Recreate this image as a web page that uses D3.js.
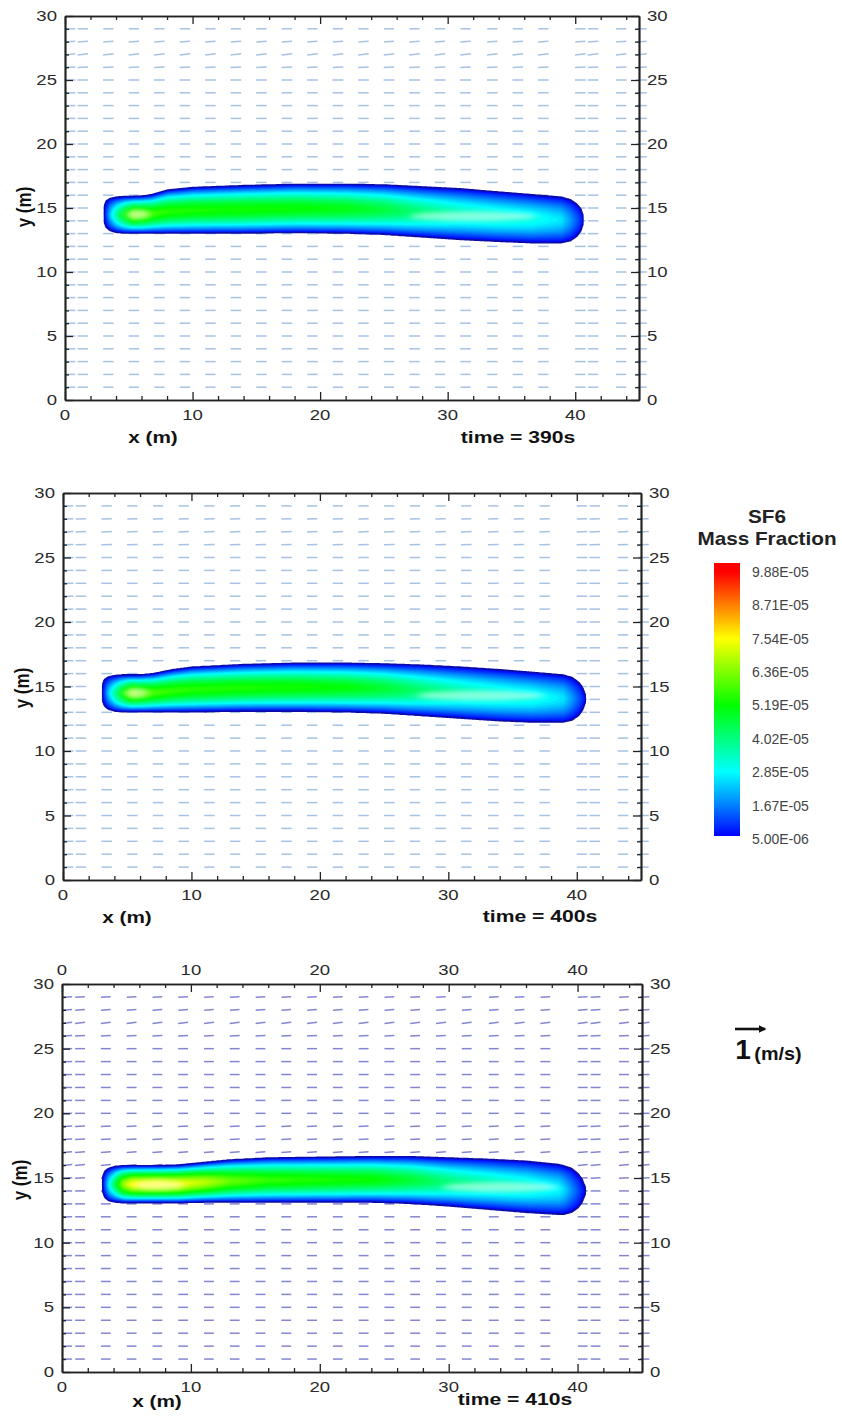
<!DOCTYPE html>
<html>
<head>
<meta charset="utf-8">
<script src="https://cdn.jsdelivr.net/npm/d3@7"></script>
<style>
  body { margin: 0; background: #fff; }
  text { font-family: "Liberation Sans", Arial, sans-serif; }
</style>
</head>
<body>
<svg id="chart" width="842" height="1416"></svg>
<script>
// ---- data ----
const times = ["390s", "400s", "410s"];
const xTickValues = [0, 10, 20, 30, 40];
const xMinorValues = [2, 4, 6, 8, 12, 14, 16, 18, 22, 24, 26, 28, 32, 34, 36, 38, 42, 44];
const yTickValues = [0, 5, 10, 15, 20, 25, 30];
const yMinorValues = [1, 2, 3, 4, 6, 7, 8, 9, 11, 12, 13, 14, 16, 17, 18, 19, 21, 22, 23, 24, 26, 27, 28, 29];
const legendValues = [9.88e-5, 8.71e-5, 7.54e-5, 6.36e-5, 5.19e-5, 4.02e-5, 2.85e-5, 1.67e-5, 5.00e-6];
const legendLabels = ["9.88E-05", "8.71E-05", "7.54E-05", "6.36E-05", "5.19E-05", "4.02E-05", "2.85E-05", "1.67E-05", "5.00E-06"];

// plume stations: x (m), upper / lower edge (m), centre-line mass fraction
const st390X   = [3.05, 3.2, 3.5, 4.0, 4.6, 5.3, 6.2, 6.8, 8.0, 10, 14, 18, 22, 25, 28, 31, 34, 36.5, 38.9, 39.6, 40.1, 40.4, 40.6];
const st390Top = [15.1, 15.5, 15.7, 15.8, 15.85, 15.85, 15.9, 16.0, 16.35, 16.55, 16.7, 16.8, 16.8, 16.75, 16.6, 16.45, 16.2, 16.0, 15.8, 15.6, 15.25, 14.9, 14.3];
const st390Bot = [13.9, 13.5, 13.25, 13.1, 13.05, 13.05, 13.05, 13.05, 13.05, 13.05, 13.05, 13.1, 13.05, 12.95, 12.75, 12.55, 12.4, 12.3, 12.3, 12.45, 12.8, 13.2, 13.8];
const st390Pk  = [0.6e-5, 1.2e-5, 2.4e-5, 3.8e-5, 5.2e-5, 6.4e-5, 6.2e-5, 5.8e-5, 5.6e-5, 5.5e-5, 5.4e-5, 5.3e-5, 5.1e-5, 4.7e-5, 4.1e-5, 3.6e-5, 3.4e-5, 3.2e-5, 2.7e-5, 2.0e-5, 1.4e-5, 1.0e-5, 0.6e-5];

const st400X   = [3.05, 3.2, 3.5, 4.0, 4.6, 5.3, 6.0, 7.0, 8.5, 10, 14, 18, 22, 25, 28, 31, 34, 36.5, 38.9, 39.6, 40.1, 40.4, 40.65];
const st400Top = [15.1, 15.5, 15.7, 15.8, 15.85, 15.85, 15.85, 15.95, 16.25, 16.45, 16.65, 16.75, 16.75, 16.7, 16.6, 16.45, 16.25, 16.05, 15.85, 15.65, 15.3, 14.9, 14.3];
const st400Bot = [13.9, 13.5, 13.25, 13.1, 13.05, 13.05, 13.05, 13.05, 13.05, 13.05, 13.1, 13.1, 13.05, 12.95, 12.75, 12.55, 12.35, 12.25, 12.25, 12.4, 12.75, 13.15, 13.8];
const st400Pk  = [0.6e-5, 1.2e-5, 2.4e-5, 3.8e-5, 5.3e-5, 6.5e-5, 6.3e-5, 5.9e-5, 5.7e-5, 5.6e-5, 5.5e-5, 5.4e-5, 5.2e-5, 4.8e-5, 4.2e-5, 3.7e-5, 3.4e-5, 3.2e-5, 2.7e-5, 2.0e-5, 1.4e-5, 1.0e-5, 0.6e-5];

const st410X   = [3.15, 3.3, 3.6, 4.1, 4.7, 5.4, 7, 9, 11, 13, 16, 20, 24, 27, 30, 33, 36, 38.5, 38.9, 39.5, 40.0, 40.3, 40.55];
const st410Top = [15.1, 15.5, 15.7, 15.85, 15.9, 15.9, 15.9, 15.95, 16.15, 16.35, 16.5, 16.55, 16.6, 16.6, 16.5, 16.4, 16.25, 16.0, 15.9, 15.7, 15.3, 14.9, 14.3];
const st410Bot = [13.9, 13.5, 13.25, 13.15, 13.1, 13.1, 13.1, 13.1, 13.15, 13.15, 13.15, 13.15, 13.15, 13.05, 12.85, 12.6, 12.35, 12.2, 12.2, 12.35, 12.7, 13.1, 13.7];
const st410Pk  = [0.6e-5, 1.4e-5, 2.8e-5, 4.6e-5, 6.6e-5, 7.6e-5, 7.7e-5, 7.5e-5, 7.0e-5, 6.2e-5, 5.7e-5, 5.5e-5, 5.3e-5, 4.8e-5, 4.1e-5, 3.7e-5, 3.4e-5, 2.9e-5, 2.6e-5, 1.9e-5, 1.3e-5, 0.9e-5, 0.6e-5];

// pale streaks along the core: [x start, x end, y] (m)
const pale390 = [[4.8, 6.6, 14.5], [27.0, 37.0, 14.35]];
const pale400 = [[4.8, 6.6, 14.5], [27.5, 37.5, 14.3]];
const pale410 = [[5.5, 9.5, 14.45], [29.5, 38.5, 14.3]];

// velocity vector grid (m) and components (m/s)
const vecCols = [0.4, 1.4, 3.4, 5.4, 7.4, 9.4, 11.4, 13.4, 15.4, 17.4, 19.4, 21.4, 23.4, 25.4, 27.4, 29.4, 31.4, 33.5, 35.5, 37.5, 40.4, 41.4, 43.6, 45.2];
const vecRows = [1, 2, 3, 4, 5, 6, 7, 8, 9, 10, 11, 12, 13, 14, 15, 16, 17, 18, 19, 20, 21, 22, 23, 24, 25, 26, 27, 28, 29];
const u390 = [0.34, 0.34, 0.35, 0.35, 0.35, 0.35, 0.35, 0.35, 0.35, 0.35, 0.35, 0.35, 0.35, 0.35, 0.35, 0.35, 0.35, 0.35, 0.35, 0.35, 0.35, 0.35, 0.35, 0.35, 0.36, 0.35, 0.35, 0.34, 0.34];
const v390 = [0, 0, 0, 0, 0, 0, 0, 0, 0, 0, 0, 0, 0, 0, 0, 0, 0, 0, 0, 0, 0, 0, 0, 0, 0, 0.02, 0.04, 0.02, 0];
const u400 = [0.34, 0.34, 0.35, 0.35, 0.35, 0.35, 0.35, 0.35, 0.35, 0.35, 0.35, 0.35, 0.35, 0.35, 0.35, 0.35, 0.35, 0.35, 0.35, 0.35, 0.35, 0.35, 0.35, 0.35, 0.35, 0.35, 0.35, 0.34, 0.34];
const v400 = [0, 0, 0, 0, 0, 0, 0, 0, 0, 0, 0, 0, 0, 0, 0, 0, 0, 0, 0, 0, 0, 0, 0, 0, 0, 0.01, 0.02, 0.01, 0];
const u410 = [0.32, 0.32, 0.33, 0.33, 0.33, 0.33, 0.33, 0.33, 0.33, 0.33, 0.33, 0.33, 0.33, 0.33, 0.33, 0.33, 0.33, 0.33, 0.33, 0.33, 0.33, 0.33, 0.33, 0.33, 0.33, 0.33, 0.33, 0.32, 0.32];
const v410 = [0, 0, 0, 0, 0, 0, 0, 0, 0, 0, 0, 0, 0, 0, 0.02, 0.03, 0.02, 0.02, 0.01, 0, 0, 0, 0, 0, 0, 0.02, 0.04, 0.03, 0.02];

// ---- layout ----
const panels = [
  { time: times[0], left: 65, right: 639, top: 16, bottom: 400, st: [st390X, st390Top, st390Bot, st390Pk], pale: pale390, u: u390, v: v390,
    vecColor: "#a6c2e4", topLabels: false, botLabelY: 415, xTitle: [153, 437], timePos: [518, 437], yTitle: [24, 207] },
  { time: times[1], left: 63, right: 641, top: 493, bottom: 880, st: [st400X, st400Top, st400Bot, st400Pk], pale: pale400, u: u400, v: v400,
    vecColor: "#a6c2e4", topLabels: false, botLabelY: 895, xTitle: [127, 917], timePos: [540, 916], yTitle: [22, 688] },
  { time: times[2], left: 62, right: 642, top: 984, bottom: 1372, st: [st410X, st410Top, st410Bot, st410Pk], pale: pale410, u: u410, v: v410,
    vecColor: "#8486d2", topLabels: true, botLabelY: 1387, xTitle: [157, 1401], timePos: [515, 1399], yTitle: [20, 1180] }
];

const svg = d3.select("#chart");
const defs = svg.append("defs");
defs.append("filter").attr("id", "soft").attr("x", "-50%").attr("y", "-100%").attr("width", "200%").attr("height", "300%")
  .append("feGaussianBlur").attr("stdDeviation", "4 2.2");

const floorVal = 5e-6;
const color = d3.scaleLinear()
  .domain([5e-6, 2.85e-5, 5.19e-5, 7.54e-5, 9.88e-5])
  .range(["#0000ff", "#00ffff", "#00ff00", "#ffff00", "#ff0000"]);
const levels = d3.range(5e-6, 1.0e-4, 1.5e-6);
const vecScale = 30; // px per 1 m/s (reference arrow)

function addText(sel, x, y, str, o) {
  let tf = `translate(${x},${y})`;
  if (o.rotate) tf += ` rotate(${o.rotate})`;
  tf += ` scale(${o.sx || 1},${o.sy || 1})`;
  return sel.append("text")
    .attr("transform", tf)
    .attr("text-anchor", o.anchor || "middle")
    .attr("dy", "0.35em")
    .style("font-size", o.size + "px")
    .style("font-weight", o.weight || "normal")
    .style("fill", o.fill || "#333")
    .text(str);
}

function interpAt(xs, vs, x) {
  const i = d3.bisectRight(xs, x) - 1;
  if (i < 0 || i >= xs.length - 1) return null;
  const t = (x - xs[i]) / (xs[i + 1] - xs[i]);
  return vs[i] + t * (vs[i + 1] - vs[i]);
}

panels.forEach((p, pi) => {
  const xs = d3.scaleLinear().domain([0, 45]).range([p.left, p.right]);
  const ys = d3.scaleLinear().domain([0, 30]).range([p.bottom, p.top]);
  const g = svg.append("g").attr("class", "panel");

  // --- velocity vectors ---
  const vecData = [];
  vecRows.forEach((yv, ri) => {
    vecCols.forEach(xv => vecData.push({ x: xv, y: yv, u: p.u[ri], v: p.v[ri] }));
  });
  g.append("g").selectAll("line")
    .data(vecData)
    .join("line")
    .attr("x1", d => xs(d.x) - d.u * vecScale / 2)
    .attr("x2", d => xs(d.x) + d.u * vecScale / 2)
    .attr("y1", d => ys(d.y) + d.v * vecScale / 2)
    .attr("y2", d => ys(d.y) - d.v * vecScale / 2)
    .attr("stroke", p.vecColor)
    .attr("stroke-width", 1.5);

  // --- SF6 plume (flooded contours) ---
  const [sx, sTop, sBot, sPk] = p.st;
  const gx0 = 2.5, dx = 0.06, gy0 = 11.0, dy = 0.04;
  const nx = Math.round((41.5 - gx0) / dx), ny = Math.round((18.0 - gy0) / dy);
  const values = new Float64Array(nx * ny);
  for (let i = 0; i < nx; i++) {
    const x = gx0 + i * dx;
    const top = interpAt(sx, sTop, x);
    if (top === null) continue;
    const bot = interpAt(sx, sBot, x);
    const pk = interpAt(sx, sPk, x);
    const c0 = (top + bot) / 2, h = (top - bot) / 2;
    for (let j = 0; j < ny; j++) {
      const y = gy0 + j * dy;
      const r = Math.abs(y - c0) / h;
      let val;
      if (r <= 1) val = floorVal + (pk - floorVal) * (1 - Math.pow(r, 1.6));
      else val = floorVal * Math.max(0, 1 - (r - 1) * 4);
      values[i + j * nx] = val;
    }
  }
  const contours = d3.contours().size([nx, ny]).thresholds(levels)(values);
  const proj = d3.geoTransform({
    point(x, y) { this.stream.point(xs(gx0 + x * dx), ys(gy0 + y * dy)); }
  });
  const path = d3.geoPath(proj);
  g.append("g").selectAll("path")
    .data(contours)
    .join("path")
    .attr("d", path)
    .attr("fill", d => color(d.value))
    .attr("stroke", (d, i) => i === 0 ? "#0c0ca8" : "none")
    .attr("stroke-width", 2);

  // pale streaks in the core
  g.append("g").attr("filter", "url(#soft)").selectAll("ellipse")
    .data(p.pale)
    .join("ellipse")
    .attr("cx", d => (xs(d[0]) + xs(d[1])) / 2)
    .attr("cy", d => ys(d[2]))
    .attr("rx", d => (xs(d[1]) - xs(d[0])) / 2)
    .attr("ry", 5)
    .attr("fill", "#ffffff")
    .attr("opacity", 0.5);

  // --- axes (inward ticks) ---
  const axStyle = a => {
    a.select(".domain").attr("stroke", "#222").attr("stroke-width", 1.7);
    a.selectAll(".tick line").attr("stroke", "#222").attr("stroke-width", 1.3);
  };
  const mk = (axis, vals, size) => axis.tickValues(vals).tickSize(-size).tickSizeOuter(0).tickFormat("");
  [[xMinorValues, 4], [xTickValues, 8]].forEach(([vals, s]) => {
    g.append("g").attr("transform", `translate(0,${p.bottom})`).call(mk(d3.axisBottom(xs), vals, s)).call(axStyle);
    g.append("g").attr("transform", `translate(0,${p.top})`).call(mk(d3.axisTop(xs), vals, s)).call(axStyle);
  });
  [[yMinorValues, 4], [yTickValues, 8]].forEach(([vals, s]) => {
    g.append("g").attr("transform", `translate(${p.left},0)`).call(mk(d3.axisLeft(ys), vals, s)).call(axStyle);
    g.append("g").attr("transform", `translate(${p.right},0)`).call(mk(d3.axisRight(ys), vals, s)).call(axStyle);
  });

  // --- tick labels ---
  const tl = { size: 14.5, sx: 1.28, fill: "#2a2a2a" };
  yTickValues.forEach(v => {
    addText(g, p.left - 8, ys(v), v, Object.assign({ anchor: "end" }, tl));
    addText(g, p.right + 8, ys(v), v, Object.assign({ anchor: "start" }, tl));
  });
  xTickValues.forEach(v => {
    addText(g, xs(v), p.botLabelY, v, tl);
    if (p.topLabels) addText(g, xs(v), p.top - 14, v, tl);
  });

  // --- titles ---
  addText(g, p.xTitle[0], p.xTitle[1], "x (m)", { size: 17, weight: "bold", sx: 1.22, fill: "#111" });
  addText(g, p.timePos[0], p.timePos[1], "time = " + p.time, { size: 16.5, weight: "bold", sx: 1.28, fill: "#111" });
  addText(g, p.yTitle[0], p.yTitle[1], "y (m)", { size: 17, weight: "bold", rotate: -90, sy: 1.2, fill: "#111" });
});

// ---- colour legend ----
const leg = svg.append("g");
const yLeg = d3.scaleLinear().domain([5e-6, 9.88e-5]).range([839, 572]);
const barTop = 563, barBot = 836;
const grad = defs.append("linearGradient")
  .attr("id", "legGrad").attr("x1", 0).attr("y1", 1).attr("x2", 0).attr("y2", 0);
const gradStops = [5e-6, 1.67e-5, 2.85e-5, 4.02e-5, 5.19e-5, 6.36e-5, 7.54e-5, 8.71e-5, 9.88e-5];
grad.selectAll("stop")
  .data(gradStops)
  .join("stop")
  .attr("offset", d => (barBot - yLeg(d)) / (barBot - barTop))
  .attr("stop-color", d => color(d));
leg.append("rect")
  .attr("x", 714).attr("y", barTop).attr("width", 26).attr("height", barBot - barTop)
  .attr("fill", "url(#legGrad)");
legendValues.forEach((v, i) => {
  addText(leg, 752, yLeg(v), legendLabels[i], { size: 14, anchor: "start", fill: "#444" });
});
addText(leg, 767, 517, "SF6", { size: 18, weight: "bold", sx: 1.15, fill: "#222" });
addText(leg, 767, 539, "Mass Fraction", { size: 18, weight: "bold", sx: 1.15, fill: "#222" });

// ---- reference vector ----
const refLen = 1 * vecScale;
defs.append("marker")
  .attr("id", "arrowHead").attr("viewBox", "0 0 10 10").attr("refX", 8).attr("refY", 5)
  .attr("markerWidth", 3).attr("markerHeight", 3).attr("orient", "auto")
  .append("path").attr("d", "M0,0 L10,5 L0,10 z").attr("fill", "#111");
svg.append("line")
  .attr("x1", 735).attr("x2", 735 + refLen).attr("y1", 1029).attr("y2", 1029)
  .attr("stroke", "#111").attr("stroke-width", 2.6).attr("marker-end", "url(#arrowHead)");
addText(svg, 743, 1049, "1", { size: 28, weight: "bold", fill: "#111" });
addText(svg, 778, 1054, "(m/s)", { size: 18, weight: "bold", sx: 1.1, fill: "#111" });
</script>
</body>
</html>
